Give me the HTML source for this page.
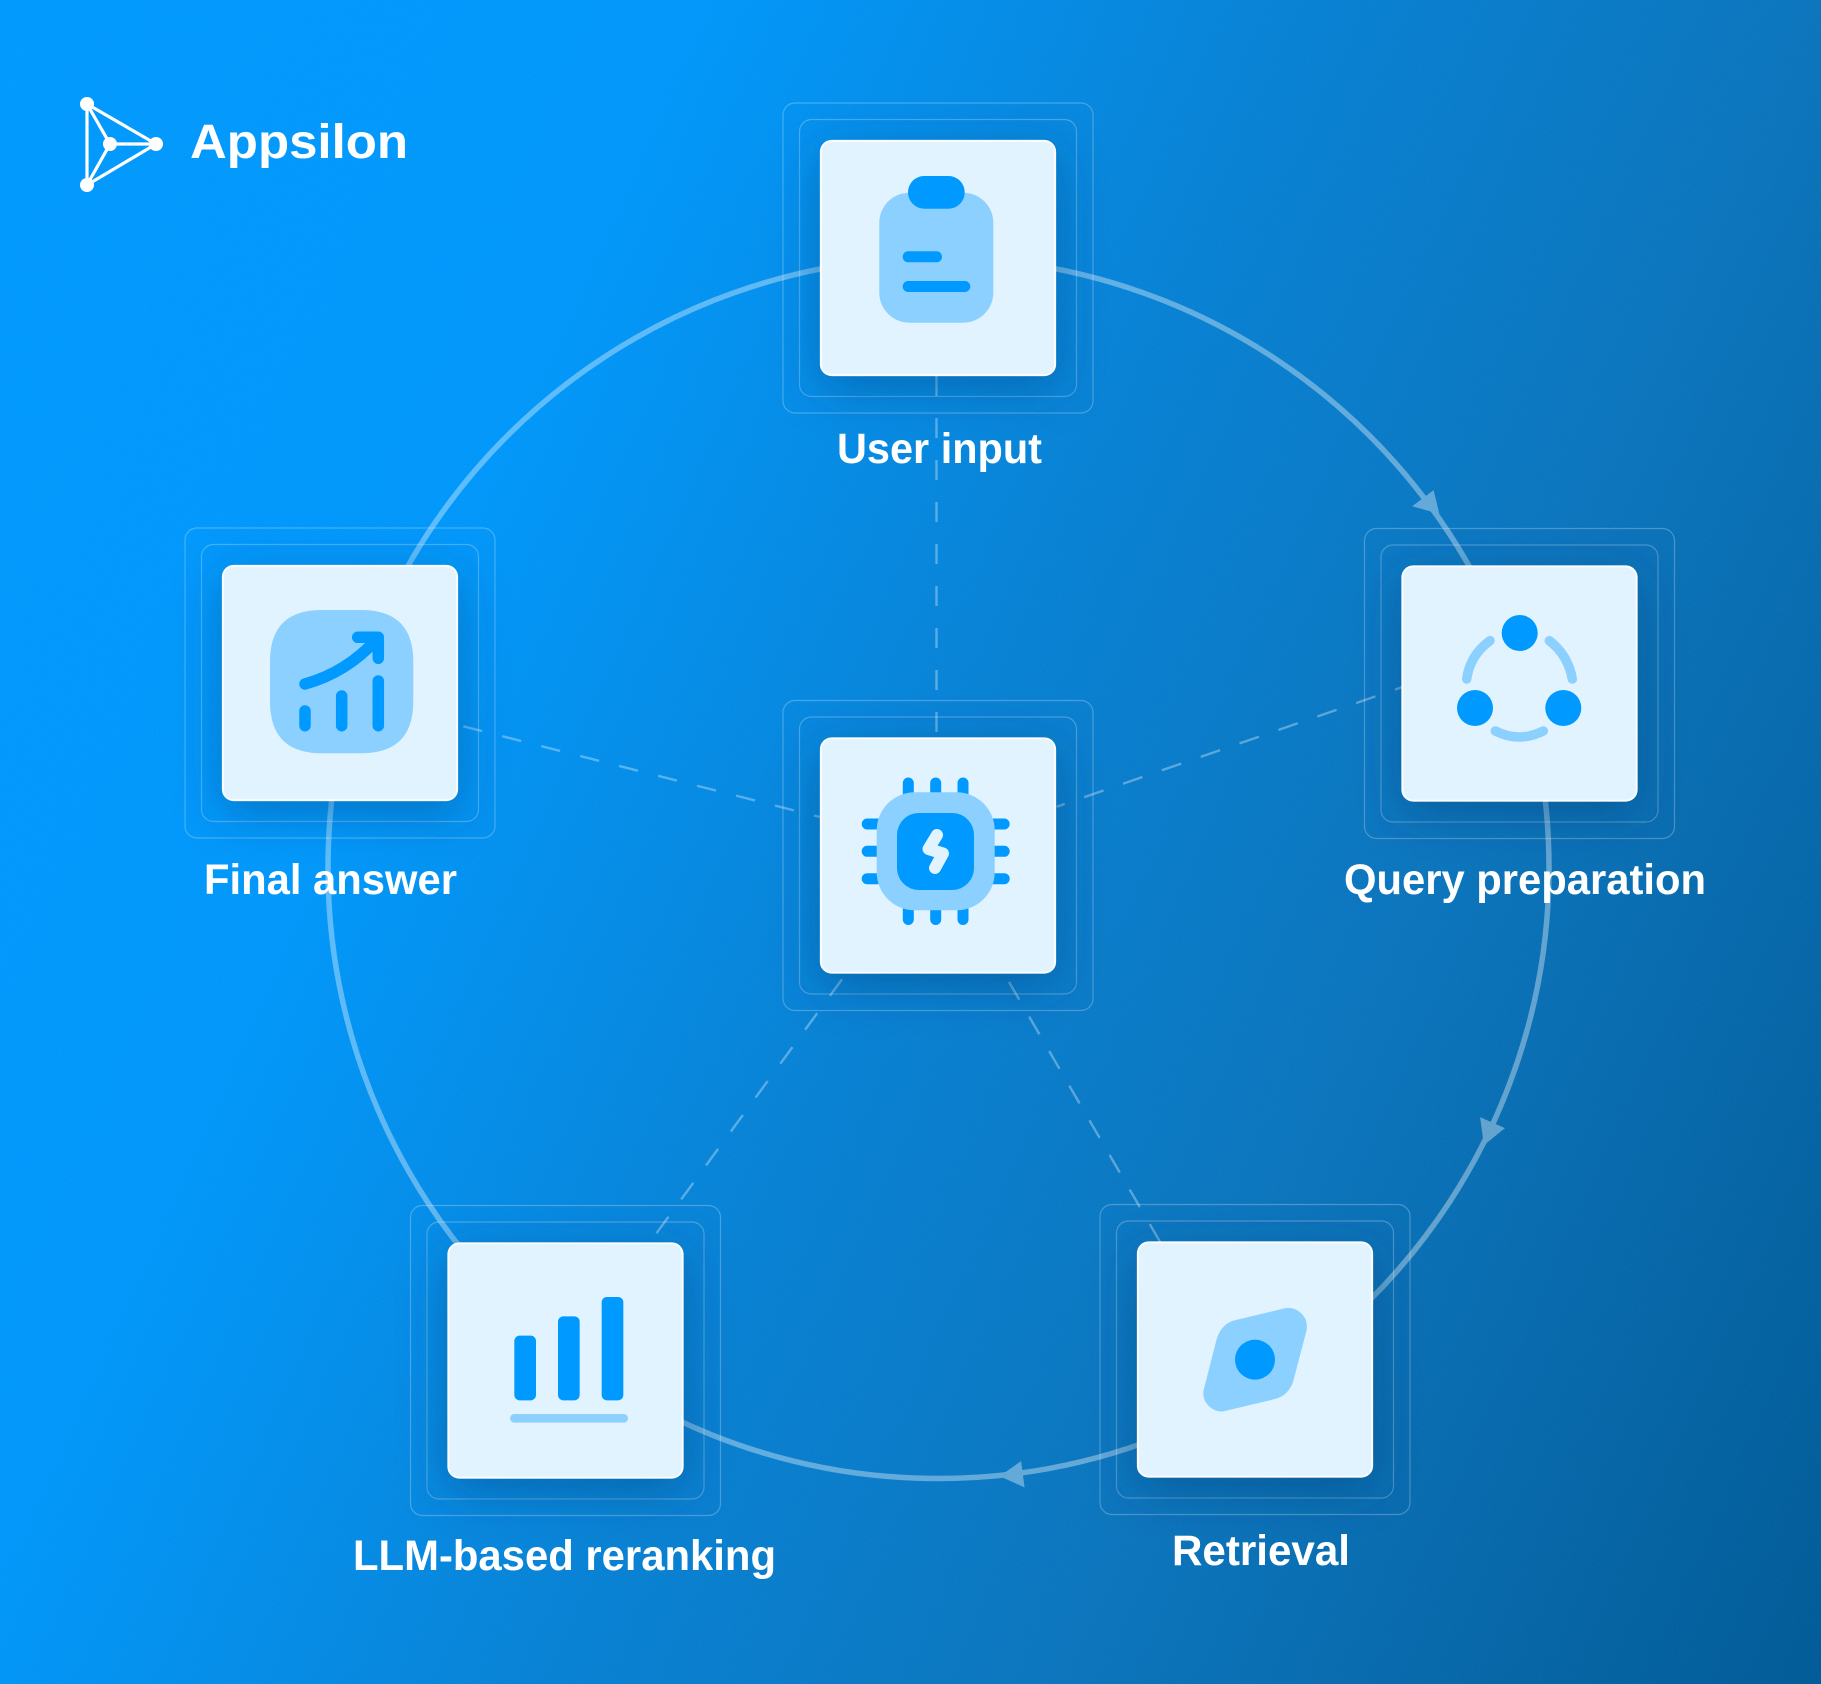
<!DOCTYPE html>
<html lang="en"><head><meta charset="utf-8"><title>Appsilon RAG pipeline</title>
<style>
html,body{margin:0;padding:0;background:#0a80d0}
svg{display:block}
text{font-family:"Liberation Sans",sans-serif;font-weight:700;fill:#fff}
</style></head><body>
<svg xmlns="http://www.w3.org/2000/svg" width="1821" height="1684" viewBox="0 0 1821 1684">
<defs>
<linearGradient id="bg" gradientUnits="userSpaceOnUse" x1="0" y1="0" x2="2145" y2="965">
<stop offset="0" stop-color="#0099fe"/><stop offset=".27" stop-color="#0097fa"/><stop offset=".515" stop-color="#0780d2"/><stop offset=".706" stop-color="#0a74bc"/><stop offset="1" stop-color="#005a96"/>
</linearGradient>
<filter id="noise" x="0" y="0" width="100%" height="100%"><feTurbulence type="fractalNoise" baseFrequency="1.1" numOctaves="2" seed="3"/><feColorMatrix values="0 0 0 0 1 0 0 0 0 1 0 0 0 0 1 0 0 0 .9 -.35"/></filter>
<filter id="sh" x="-35%" y="-35%" width="170%" height="180%"><feDropShadow dx="0" dy="12" stdDeviation="24" flood-color="#00386e" flood-opacity=".38"/></filter>
<g id="card">
<rect x="-37" y="-37" width="310" height="310" rx="12" fill="none" stroke="#fff" stroke-opacity=".25" stroke-width="1.2"/>
<rect x="-20.5" y="-20.5" width="277" height="277" rx="12" fill="none" stroke="#fff" stroke-opacity=".25" stroke-width="1.2"/>
<rect x="0.8" y="0.8" width="234.4" height="234.4" rx="11" fill="#e1f3ff" stroke="#fff" stroke-width="1.8" filter="url(#sh)"/>
</g>
</defs>
<rect width="1821" height="1684" fill="url(#bg)"/>
<rect width="1821" height="1684" filter="url(#noise)" opacity=".12"/>

<!-- dashed spokes -->
<g fill="none" stroke="#fff" stroke-opacity=".33" stroke-width="2.4">
<path d="M936.5 376V737" stroke-dasharray="20 22"/>
<path d="M1056.7 806.7L1401.7 687.3" stroke-dasharray="20.5 20.6" stroke-dashoffset="12"/>
<path d="M463.3 726.3L820 817" stroke-dasharray="19.5 20.7"/>
<path d="M842 979.3L655.7 1234.3" stroke-dasharray="20.5 21.5"/>
<path d="M1009 982L1160 1241.7" stroke-dasharray="20.4 19.6"/>
</g>

<!-- main ring -->
<g opacity=".36">
<circle cx="938.5" cy="868" r="610.5" fill="none" stroke="#fff" stroke-width="5.5"/>
<path d="M1413.3 506L1433.3 491L1438.7 513.3Z" fill="#fff" stroke="#fff" stroke-width="1"/>
<path d="M1480.7 1118L1504 1128.3L1484.3 1144.3Z" fill="#fff" stroke="#fff" stroke-width="1"/>
<path d="M1000.7 1476L1020.7 1462L1024 1486.7Z" fill="#fff" stroke="#fff" stroke-width="1"/>
</g>

<!-- cards -->
<use href="#card" x="820" y="140"/>
<use href="#card" x="820" y="737.5"/>
<use href="#card" x="1401.5" y="565.5"/>
<use href="#card" x="222" y="565"/>
<use href="#card" x="1137" y="1241.5"/>
<use href="#card" x="447.5" y="1242.5"/>

<!-- logo -->
<g stroke="#fff" stroke-width="3.2" fill="none">
<path d="M87 104V185L156 144ZM87 104L110 144L87 185M110 144H156"/>
</g>
<g fill="#fff"><circle cx="87" cy="104" r="7"/><circle cx="87" cy="185" r="7"/><circle cx="156" cy="144" r="7"/><circle cx="110" cy="144" r="7"/></g>
<text x="190" y="158" font-size="48" textLength="218" lengthAdjust="spacingAndGlyphs">Appsilon</text>

<!-- labels -->
<text x="837" y="463" font-size="43" textLength="205" lengthAdjust="spacingAndGlyphs">User input</text>
<text x="204" y="894" font-size="43" textLength="253" lengthAdjust="spacingAndGlyphs">Final answer</text>
<text x="1344" y="894" font-size="43" textLength="362" lengthAdjust="spacingAndGlyphs">Query preparation</text>
<text x="353" y="1570" font-size="43" textLength="423" lengthAdjust="spacingAndGlyphs">LLM-based reranking</text>
<text x="1172" y="1565" font-size="43" textLength="178" lengthAdjust="spacingAndGlyphs">Retrieval</text>

<!-- clipboard -->
<rect x="879.3" y="192.7" width="114" height="130" rx="30" fill="#8cd0ff"/>
<rect x="908" y="176" width="56.7" height="32.7" rx="16.3" fill="#0099ff"/>
<rect x="902.7" y="251.3" width="39.3" height="11" rx="5.5" fill="#0099ff"/>
<rect x="902.7" y="281" width="67.6" height="11" rx="5.5" fill="#0099ff"/>

<!-- chip -->
<g stroke="#0099ff" stroke-width="11" stroke-linecap="round" fill="none">
<path d="M908.3 783V800M935.7 783V800M963 783V800M908.3 900V919.5M935.7 900V919.5M963 900V919.5M867.2 824H885M867.2 851.3H885M867.2 878.7H885M985 824H1004.2M985 851.3H1004.2M985 878.7H1004.2"/>
</g>
<rect x="876.7" y="792.3" width="118" height="118" rx="38" fill="#8cd0ff"/>
<rect x="897" y="813" width="77" height="77" rx="22" fill="#0099ff"/>
<path d="M937 835L928.5 849L943 853.5L935 868" fill="none" stroke="#e1f3ff" stroke-width="12" stroke-linecap="round" stroke-linejoin="round"/>

<!-- share -->
<g fill="#0099ff"><circle cx="1519.7" cy="633" r="18"/><circle cx="1475" cy="708" r="18"/><circle cx="1563.3" cy="708" r="18"/></g>
<g fill="none" stroke="#8cd0ff" stroke-width="9.5" stroke-linecap="round">
<path d="M1466.7 679Q1470 655 1490 640.7"/>
<path d="M1572.3 679Q1568 655 1549.3 640.7"/>
<path d="M1495.3 731Q1519 743 1543.3 731"/>
</g>

<!-- growth chart -->
<path d="M322 610H361C396 610 413.3 627 413.3 662V701C413.3 736 396 753.3 361 753.3H322C287 753.3 270 736 270 701V662C270 627 287 610 322 610Z" fill="#8cd0ff"/>
<g fill="none" stroke="#0099ff" stroke-width="11.5" stroke-linecap="round" stroke-linejoin="round">
<path d="M305 711V725.7M341.7 696V725.7M378.3 681V725.7"/>
<path d="M305 684C330 677 355 663 376 640"/>
<path d="M357.7 637.3H378.3V658.3"/>
</g>

<!-- compass -->
<g transform="translate(1090 1200) scale(.33333)">
<path d="M430 362L580 326Q600 320 620 330Q655 350 650 390L612 535Q600 585 555 597L405 633Q385 638 365 625Q335 605 341 570L378 425Q390 375 430 362Z" fill="#8cd0ff"/>
<circle cx="495" cy="479" r="60" fill="#0099ff"/>
</g>

<!-- bars -->
<g transform="translate(405 1200) scale(.33333)">
<rect x="328" y="407" width="65" height="194" rx="16" fill="#0099ff"/>
<rect x="459" y="349" width="65" height="252" rx="16" fill="#0099ff"/>
<rect x="590" y="291" width="65" height="310" rx="16" fill="#0099ff"/>
<rect x="315" y="642" width="354" height="26" rx="13" fill="#8cd0ff"/>
</g>
</svg>
</body></html>
